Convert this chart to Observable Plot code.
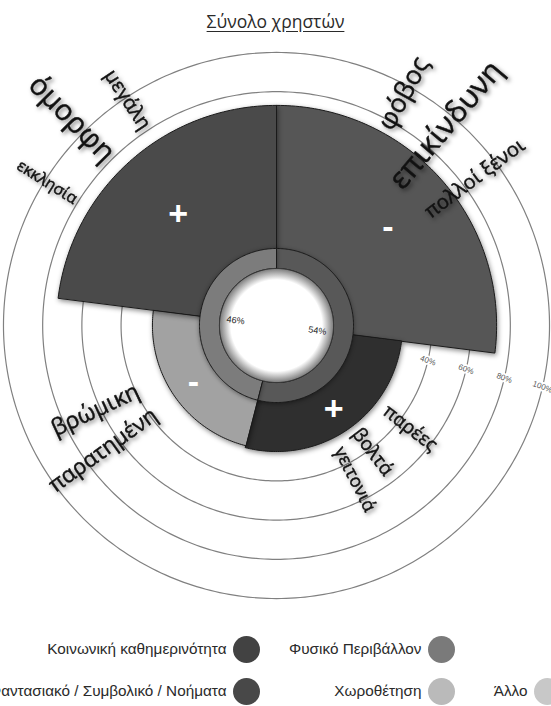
<!DOCTYPE html>
<html>
<head>
<meta charset="utf-8">
<script src="https://cdn.jsdelivr.net/npm/d3@7"></script>
<script src="https://cdn.jsdelivr.net/npm/@observablehq/plot@0.6"></script>
<style>
  html, body { margin: 0; padding: 0; background: #fff; }
  body { width: 551px; height: 706px; overflow: hidden; position: relative; font-family: "Liberation Sans", Arial, sans-serif; }
  #title { position: absolute; top: 9px; left: 0; width: 551px; text-align: center; font-family: "Open Sans", sans-serif; font-size: 17.5px; color: #2a2a2a; text-decoration: underline; text-underline-offset: 3px; }
  #chart { position: absolute; top: 40px; left: 0; }
  .leg-dot { position: absolute; width: 27px; height: 27px; border-radius: 50%; }
  .leg-txt { position: absolute; font-size: 15.3px; color: #2a2a2a; white-space: nowrap; line-height: 20px; }
</style>
</head>
<body>
<div id="title">Σύνολο χρηστών</div>
<div id="chart"></div>
<div id="legend"></div>
<script>
// ---------------- DATA ----------------
// inner ring (share of all users), clockwise from top
const donutLabels = ["54%", "46%"];
const donutShares = [54, 46];

// outer sectors, clockwise from top
const sectorSigns  = ["-", "+", "-", "+"];
const sectorShares = [27, 27, 23, 23];   // angular share (%)
const sectorValues = [73, 25, 24, 73];   // radial extent (%)

// words placed in each sector
const words = ["όμορφη", "μεγάλη", "εκκλησία", "φόβος", "επικίνδυνη", "πολλοί ξένοι",
               "βρώμικη", "παρατημένη", "παρέες", "βολτά", "γειτονιά"];
const wordSector = [3, 3, 3, 0, 0, 0, 2, 2, 1, 1, 1];

// radial grid ticks
const ringTicks = [40, 60, 80, 100];

// legend
const legendLabels = ["Κοινωνική καθημερινότητα", "Φυσικό Περιβάλλον",
                      "Φαντασιακό / Συμβολικό / Νοήματα", "Χωροθέτηση", "Άλλο"];

// ---------------- STYLE / LAYOUT ----------------
const W = 551, H = 580, CX = 276, CY = 285;
const K = 1.96;          // px per % unit
const HOLE = 39.3;       // donut outer radius in % units
const DONUT_IN = 29.1;   // donut inner radius in % units
const sectorColors = ["#565656", "#2f2f2f", "#a2a2a2", "#4a4a4a"];
const donutColors = ["#585858", "#7c7c7c"];
// word layout: [angle deg clockwise from top, radius in units, font size]
const wordLayout = [
  [315.3, 148.5, 29], [326.6, 138, 20], [302, 138, 16],
  [28.7, 135, 26], [40.2, 134, 30], [53.4, 126, 20],
  [245, 102, 23], [234.3, 109, 22], [127.5, 86, 19], [142.7, 81, 19], [153, 88, 18]
];
const legendLayout = [[246, 649], [441, 649], [246, 691], [441, 691], [547, 691]];
const legendColors = ["#424242", "#7a7a7a", "#484848", "#bababa", "#c8c8c8"];

// ---------------- GEOMETRY HELPERS ----------------
function pt(theta, u) {
  const a = theta * Math.PI / 180;
  return {x: u * Math.sin(a), y: u * Math.cos(a)};
}
function arcPts(a0, a1, u0, u1) {
  const n = Math.max(2, Math.ceil(Math.abs(a1 - a0)));
  const pts = [];
  for (let i = 0; i <= n; i++) pts.push(pt(a0 + (a1 - a0) * i / n, u1));
  if (u0 > 0) for (let i = n; i >= 0; i--) pts.push(pt(a0 + (a1 - a0) * i / n, u0));
  else pts.push({x: 0, y: 0});
  return pts;
}
function circlePts(u) {
  const pts = [];
  for (let i = 0; i < 360; i++) pts.push(pt(i, u));
  return pts;
}
function cumAngles(shares) {
  let acc = 0;
  return shares.map(s => { const a0 = acc * 3.6; acc += s; return [a0, acc * 3.6]; });
}

const sectorAngles = cumAngles(sectorShares);
const donutAngles = cumAngles(donutShares);

// ---------------- MARKS ----------------
const marks = [];
const roles = [];
function add(mark, role) { marks.push(mark); roles.push(role); }

// grid circles
ringTicks.forEach(t => {
  add(Plot.line(circlePts(HOLE + t), {x: "x", y: "y", curve: "linear-closed", stroke: "#808080", strokeWidth: 1.2, fill: "none"}), "ring");
});
// ring labels
const ringLabelData = ringTicks.map(t => ({...pt(103, HOLE + t), text: t + "%"}));
add(Plot.text(ringLabelData, {x: "x", y: "y", text: "text", rotate: 20, fontSize: 8, fill: "#555",
  stroke: "white", strokeWidth: 4, paintOrder: "stroke", fontFamily: "Liberation Sans"}), "ringlabels");

// sectors
sectorAngles.forEach(([a0, a1], i) => {
  add(Plot.line(arcPts(a0, a1, 0, HOLE + sectorValues[i]), {
    x: "x", y: "y", curve: "linear-closed", fill: sectorColors[i], stroke: "#1a1a1a", strokeWidth: 1
  }), "sector");
});

// donut
donutAngles.forEach(([a0, a1], i) => {
  add(Plot.line(arcPts(a0, a1, DONUT_IN, HOLE), {
    x: "x", y: "y", curve: "linear-closed", fill: donutColors[i], stroke: "#1a1a1a", strokeWidth: 1
  }), "donut");
});
// white hole
add(Plot.line(circlePts(DONUT_IN), {x: "x", y: "y", curve: "linear-closed", fill: "white", stroke: "#333", strokeWidth: 1}), "hole");

// donut percentage labels
const donutLabelData = donutAngles.map(([a0, a1], i) => ({...pt((a0 + a1) / 2, 21), text: donutLabels[i]}));
add(Plot.text(donutLabelData, {x: "x", y: "y", text: "text", rotate: 8, fontSize: 9, fill: "#222", fontFamily: "Liberation Sans"}), "pct");

// signs
const signData = sectorAngles.map(([a0, a1], i) => ({...pt((a0 + a1) / 2, (HOLE + HOLE + sectorValues[i]) / 2), text: sectorSigns[i]}));
add(Plot.text(signData, {x: "x", y: "y", text: "text", fontSize: 34, fontWeight: "bold", fill: "white", fontFamily: "Liberation Sans"}), "signs");

// words
const wordData = words.map((w, i) => {
  const [th, u, fs] = wordLayout[i];
  const rot = th < 180 ? th - 90 : th - 270;
  return {...pt(th, u), text: w, rot, fs, sector: wordSector[i]};
});
add(Plot.text(wordData, {x: "x", y: "y", text: "text", rotate: "rot", fontSize: "fs", fill: "#111",
  stroke: "#111", strokeWidth: 0.45, fontFamily: "Open Sans"}), "words");

const svg = Plot.plot({
  width: W, height: H, margin: 0,
  x: {domain: [-CX / K, (W - CX) / K], axis: null},
  y: {domain: [-(H - CY) / K, CY / K], axis: null},
  style: {background: "transparent", overflow: "visible"},
  marks
});
document.getElementById("chart").appendChild(svg);

// gradient for the hole (inner shadow) + shadows
const sel = d3.select(svg);
const groups = Array.from(svg.children).filter(n => n.tagName.toLowerCase() === "g");
const byRole = r => groups.filter((g, i) => roles[i] === r);
const defs = sel.insert("defs", ":first-child");
const grad = defs.append("radialGradient").attr("id", "holeGrad");
grad.append("stop").attr("offset", "80%").attr("stop-color", "#ffffff");
grad.append("stop").attr("offset", "100%").attr("stop-color", "#7a7a7a");
byRole("hole").forEach(g => d3.select(g).selectAll("path").attr("fill", "url(#holeGrad)"));
byRole("sector").forEach(g => g.style.filter = "drop-shadow(1px 2px 2.5px rgba(0,0,0,0.45))");
byRole("donut").forEach(g => g.style.filter = "drop-shadow(0px 1px 2px rgba(0,0,0,0.4))");
byRole("words").forEach(g => g.style.filter = "drop-shadow(2px 2px 2px rgba(0,0,0,0.5))");

// legend
const leg = document.getElementById("legend");
legendLabels.forEach((lab, i) => {
  const [cx, cy] = legendLayout[i];
  const dot = document.createElement("div");
  dot.className = "leg-dot";
  dot.style.left = (cx - 13.5) + "px";
  dot.style.top = (cy - 13.5) + "px";
  dot.style.background = legendColors[i];
  leg.appendChild(dot);
  const t = document.createElement("div");
  t.className = "leg-txt";
  t.textContent = lab;
  t.style.right = (W - (cx - 19.5)) + "px";
  t.style.top = (cy - 10) + "px";
  leg.appendChild(t);
});
</script>
</body>
</html>
